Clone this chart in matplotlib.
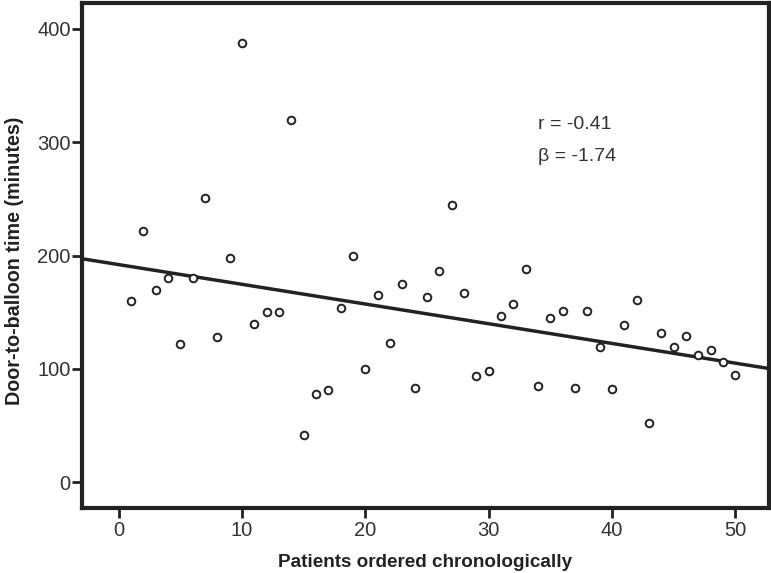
import numpy as np
import matplotlib
matplotlib.use("Agg")
import matplotlib.pyplot as plt

patients = list(range(1, 51))
dtb = [160, 222, 170, 180, 122, 180, 251, 128, 198, 388,
       140, 150, 150, 320, 42, 78, 81, 154, 200, 100,
       165, 123, 175, 83, 163, 186, 245, 167, 94, 98,
       147, 157, 188, 85, 145, 151, 83, 151, 119, 82,
       139, 161, 52, 132, 119, 129, 112, 117, 106, 95]
xticks = [0, 10, 20, 30, 40, 50]
yticks = [0, 100, 200, 300, 400]
r_text = "r = -0.41"
beta_text = "β = -1.74"

fam = ["Liberation Sans Narrow", "Liberation Sans", "DejaVu Sans"]
plt.rcParams['font.family'] = fam

fig = plt.figure(figsize=(7.71, 5.73), dpi=100)
ax = fig.add_axes([0.106, 0.113, 0.891, 0.882])

x = np.array(patients, dtype=float)
y = np.array(dtb, dtype=float)
slope, intercept = np.polyfit(x, y, 1)
xl = np.array([-3.0, 52.7])
ax.plot(xl, intercept + slope * xl, color="#222222", lw=2.5, zorder=2)
ax.scatter(x, y, s=30, facecolors="white", edgecolors="#222222", linewidths=1.4, zorder=3)

ax.set_xlim(-3.0, 52.7)
ax.set_ylim(-23, 423)
ax.set_xticks(xticks)
ax.set_yticks(yticks)
ax.tick_params(axis="both", direction="out", length=7, width=2, color="#222222",
               labelsize=14.5, labelcolor="#333333")
ax.tick_params(axis="y", pad=1)
ax.tick_params(axis="x", pad=2)
for s in ax.spines.values():
    s.set_linewidth(3)
    s.set_color("#222222")

ax.set_xlabel("Patients ordered chronologically", fontsize=13.6, fontweight="bold",
              color="#222222", labelpad=10)
ax.set_ylabel("Door-to-balloon time (minutes)", fontsize=14.2, fontweight="bold",
              color="#222222", labelpad=6)
ax.yaxis.set_label_coords(-0.084, 0.49)

ax.text(34.0, 316, r_text, fontsize=14, color="#333333", va="center", ha="left")
ax.text(34.0, 287, beta_text, fontsize=14, color="#333333", va="center", ha="left")

fig.savefig("out.png", dpi=100)
